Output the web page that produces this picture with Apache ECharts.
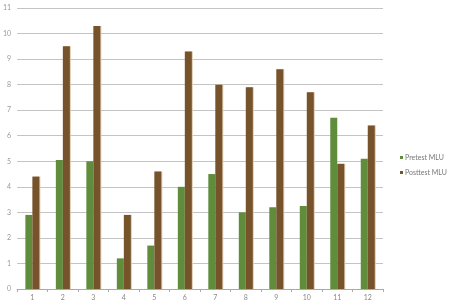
<!DOCTYPE html>
<html>
<head>
<meta charset="utf-8">
<script src="https://cdn.jsdelivr.net/npm/echarts@6/dist/echarts.min.js"></script>
<style>html,body{margin:0;padding:0;background:#fff;}#c{width:450px;height:306px;}</style>
</head>
<body>
<div id="c"></div>
<script>
const categories = ['1','2','3','4','5','6','7','8','9','10','11','12'];
const pretest = [2.9, 5.05, 5.0, 1.2, 1.7, 4.0, 4.5, 3.0, 3.2, 3.25, 6.7, 5.1];
const posttest = [4.4, 9.5, 10.3, 2.9, 4.6, 9.3, 8.0, 7.9, 8.6, 7.7, 4.9, 6.4];
const seriesNames = ['Pretest MLU', 'Posttest MLU'];
const yMin = 0, yMax = 11, yStep = 1;

const chart = echarts.init(document.getElementById('c'), null, {renderer: 'canvas'});
const fontFam = 'Lato, "DejaVu Sans", sans-serif';
chart.setOption({
  animation: false,
  backgroundColor: '#ffffff',
  grid: {left: 16, right: 67, top: 8, bottom: 17, containLabel: false},
  legend: {
    orient: 'vertical', left: 395, top: 149,
    icon: 'rect', itemWidth: 3, itemHeight: 3, itemGap: 8,
    textStyle: {fontFamily: fontFam, fontSize: 7, color: '#777', padding: [0,0,0,-3]},
    data: seriesNames
  },
  xAxis: {
    type: 'category', data: categories,
    axisLine: {lineStyle: {color: '#aaa'}},
    axisTick: {show: true, lineStyle: {color: '#aaa'}, length: 3},
    axisLabel: {fontFamily: fontFam, fontSize: 7, color: '#888', margin: 5}
  },
  yAxis: {
    type: 'value', min: yMin, max: yMax, interval: yStep,
    axisLine: {show: false}, axisTick: {show: false},
    splitLine: {lineStyle: {color: '#c4c4c4', width: 1}},
    axisLabel: {fontFamily: fontFam, fontSize: 7, color: '#999', margin: 6}
  },
  series: [
    {name: seriesNames[0], type: 'bar', data: pretest, barWidth: 7, barGap: '0%',
     itemStyle: {color: '#5f8d3b'}},
    {name: seriesNames[1], type: 'bar', data: posttest, barWidth: 7,
     itemStyle: {color: '#76532a', shadowColor: '#dccab0', shadowOffsetX: 1, shadowBlur: 0}}
  ]
});
</script>
</body>
</html>
